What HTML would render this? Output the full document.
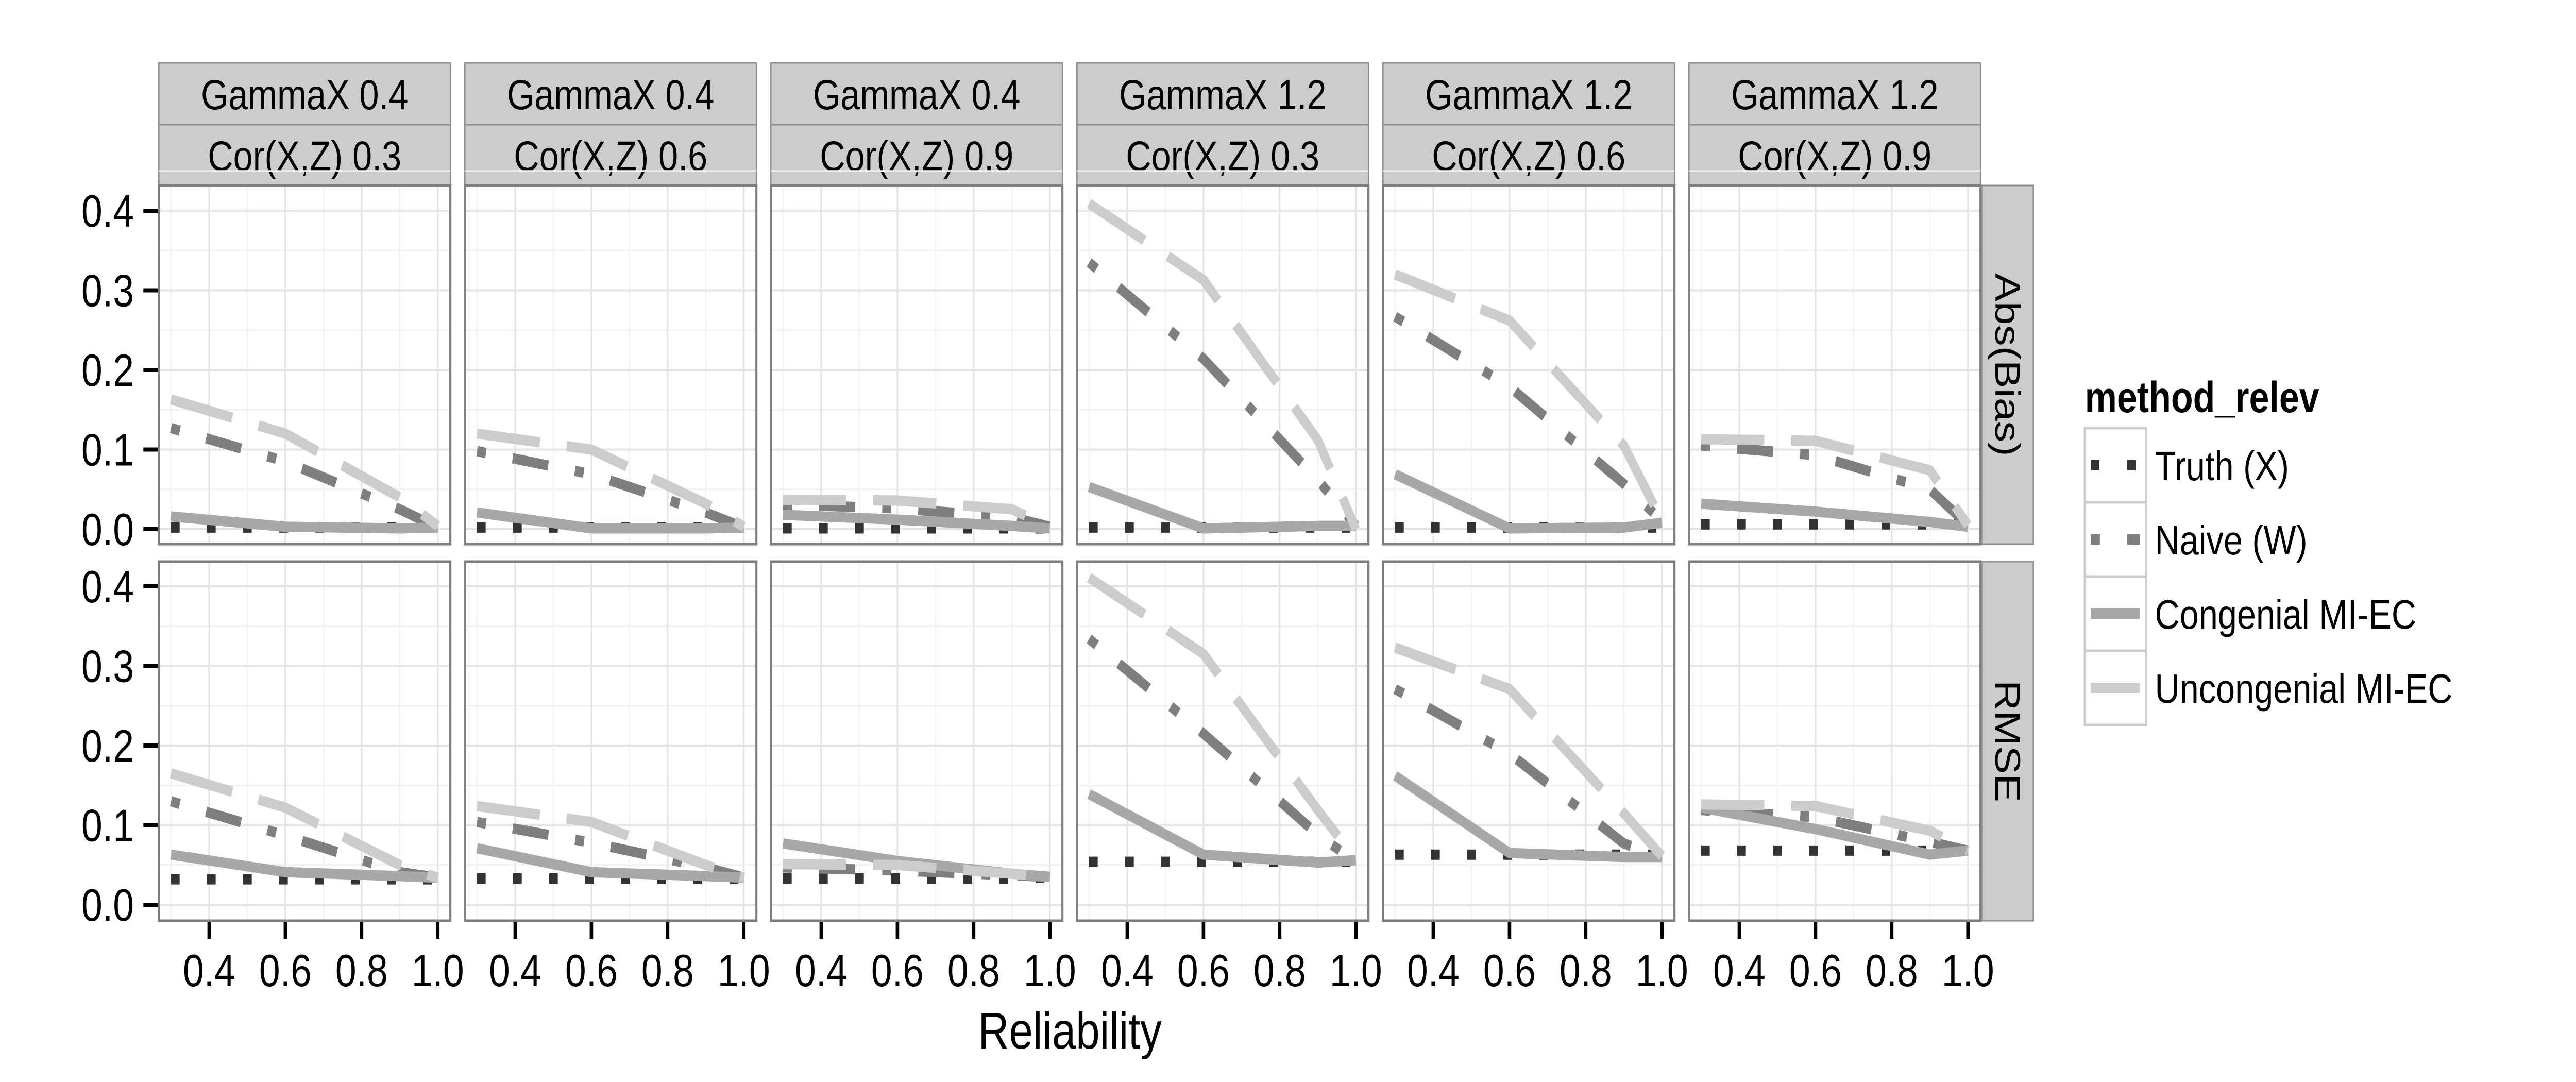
<!DOCTYPE html>
<html><head><meta charset="utf-8"><style>
html,body{margin:0;padding:0;background:#fff;width:100%;height:100%;overflow:hidden;}
svg{display:block;font-family:"Liberation Sans",Arial,sans-serif;width:100vw;height:100vh;}
</style></head><body>
<svg id="chart" viewBox="0 0 6000 2100" preserveAspectRatio="none" xmlns="http://www.w3.org/2000/svg"></svg>
<script>
const xs = [0.3, 0.6, 0.9, 1.0];
const gammaLabels = ["GammaX 0.4","GammaX 0.4","GammaX 0.4","GammaX 1.2","GammaX 1.2","GammaX 1.2"];
const corLabels = ["Cor(X,Z) 0.3","Cor(X,Z) 0.6","Cor(X,Z) 0.9","Cor(X,Z) 0.3","Cor(X,Z) 0.6","Cor(X,Z) 0.9"];
const rowLabels = ["Abs(Bias)","RMSE"];
const xTicks = [0.4,0.6,0.8,1.0];
const xTickLabels = ["0.4","0.6","0.8","1.0"];
const yTicks = [0,0.1,0.2,0.3,0.4];
const yTickLabels = ["0.0","0.1","0.2","0.3","0.4"];
const methods = ["Truth (X)","Naive (W)","Congenial MI-EC","Uncongenial MI-EC"];

const truthBias = [[0.002,0.002,0.002,0.002],[0.002,0.002,0.002,0.002],[0.001,0.001,0.001,0.001],[0.002,0.002,0.002,0.002],[0.002,0.002,0.002,0.002],[0.006,0.006,0.006,0.006]];
const naiveBias = [[0.127,0.085,0.025,0.002],[0.098,0.069,0.021,0.002],[0.031,0.026,0.015,0.003],[0.335,0.214,0.062,0.004],[0.267,0.179,0.057,0.010],[0.105,0.093,0.050,0.005]];
const congBias = [[0.016,0.003,0.001,0.002],[0.021,0.001,0.001,0.002],[0.018,0.012,0.004,0.001],[0.053,0.001,0.004,0.004],[0.069,0.001,0.002,0.008],[0.032,0.022,0.009,0.003]];
const uncongBias = [[0.163,0.120,0.040,0.004],[0.120,0.100,0.032,0.003],[0.037,0.036,0.025,0.003],[0.409,0.313,0.112,0.000],[0.320,0.262,0.105,0.010],[0.113,0.111,0.074,0.005]];

const truthRmse = [[0.032,0.032,0.032,0.032],[0.033,0.033,0.033,0.033],[0.033,0.033,0.033,0.034],[0.054,0.054,0.054,0.054],[0.063,0.063,0.063,0.063],[0.068,0.068,0.068,0.068]];
const naiveRmse = [[0.130,0.087,0.041,0.034],[0.104,0.078,0.047,0.034],[0.047,0.043,0.037,0.035],[0.334,0.215,0.088,0.054],[0.271,0.190,0.077,0.060],[0.119,0.110,0.079,0.068]];
const congRmse = [[0.063,0.041,0.036,0.034],[0.071,0.041,0.036,0.034],[0.077,0.055,0.039,0.035],[0.139,0.063,0.053,0.056],[0.162,0.065,0.060,0.060],[0.122,0.095,0.063,0.068]];
const uncongRmse = [[0.165,0.122,0.050,0.034],[0.124,0.104,0.050,0.034],[0.051,0.050,0.039,0.035],[0.411,0.315,0.119,0.057],[0.323,0.271,0.115,0.061],[0.126,0.124,0.093,0.068]];

const NS = "http://www.w3.org/2000/svg";
const svg = document.getElementById("chart");
function mk(tag, attrs, parent){
  const e = document.createElementNS(NS, tag);
  for (const k in attrs) e.setAttribute(k, attrs[k]);
  (parent||svg).appendChild(e);
  return e;
}
const PL0 = 370, PSTEP = 712.8, PW = 679;
const rowTop = [360, 1090], rowBot = [1056, 1787], rowZero = [1027, 1756];
const YPX = 1545;
const XMIN = 0.268, XMAX = 1.033;
function xScale(p, v){ return PL0 + p*PSTEP + (v - XMIN)/(XMAX - XMIN)*PW; }
function yScale(r, v){ return rowZero[r] - v*YPX; }

const styles = [
  {color:"#333333", dash:"20,64"},
  {color:"#7f7f7f", dash:"21,63,84,63"},
  {color:"#a8a8a8", dash:""},
  {color:"#cccccc", dash:"147,63"}
];
const seriesByRow = [[truthBias, naiveBias, congBias, uncongBias],[truthRmse, naiveRmse, congRmse, uncongRmse]];
const seriesNames = ["truth","naive","congenial","uncongenial"];

for (let p=0;p<6;p++){
  const x0 = PL0 + p*PSTEP;
  const s1 = mk("rect",{x:x0,y:122,width:PW,height:120,fill:"#cccccc",stroke:"#8c8c8c","stroke-width":3});
  
  
  const s2 = mk("rect",{x:x0,y:242,width:PW,height:119,fill:"#cccccc",stroke:"#8c8c8c","stroke-width":3});
  
  
  const t1 = mk("text",{x:x0+PW/2,y:212,"text-anchor":"middle","font-size":82,fill:"#000"});
  t1.textContent = gammaLabels[p];
  
  
  const t2 = mk("text",{x:x0+PW/2,y:331,"text-anchor":"middle","font-size":82,fill:"#000"});
  t2.textContent = corLabels[p];
  
  
}

for (let r=0;r<2;r++){
  const rs = mk("rect",{x:4617,y:rowTop[r],width:119,height:rowBot[r]-rowTop[r],fill:"#cccccc",stroke:"#8c8c8c","stroke-width":3});
  
  
  const cy = (rowTop[r]+rowBot[r])/2;
  const rt = mk("text",{x:4676,y:cy,"text-anchor":"middle","dominant-baseline":"central","font-size":82,transform:`rotate(90 4676 ${cy})`});
  rt.textContent = rowLabels[r];
  
  
  for (let i=0;i<yTicks.length;i++){
    const y = yScale(r, yTicks[i]);
    const tk = mk("line",{x1:334,x2:369,y1:y,y2:y,stroke:"#000","stroke-width":8});
    
    
    const tl = mk("text",{x:312,y:y+31,"text-anchor":"end","font-size":88});
    tl.textContent = yTickLabels[i];
    
    
  }
  for (let p=0;p<6;p++){
    const x0 = PL0 + p*PSTEP;
    const g = mk("g",{});
    
    
    mk("rect",{x:x0,y:rowTop[r],width:PW,height:rowBot[r]-rowTop[r],fill:"#ffffff"},g);
    const clip = mk("clipPath",{id:`c${r}${p}`},g);
    mk("rect",{x:x0,y:rowTop[r],width:PW,height:rowBot[r]-rowTop[r]},clip);
    for (let v=0.05; v<0.45; v+=0.1){
      const y=yScale(r,v);
      mk("line",{x1:x0,x2:x0+PW,y1:y,y2:y,stroke:"#f2f2f2","stroke-width":3},g);
    }
    for (let v=0.3; v<1.05; v+=0.2){
      const x=xScale(p,v);
      mk("line",{x1:x,x2:x,y1:rowTop[r],y2:rowBot[r],stroke:"#f2f2f2","stroke-width":3},g);
    }
    for (const v of yTicks){
      const y=yScale(r,v);
      mk("line",{x1:x0,x2:x0+PW,y1:y,y2:y,stroke:"#e5e5e5","stroke-width":4},g);
    }
    for (const v of xTicks){
      const x=xScale(p,v);
      mk("line",{x1:x,x2:x,y1:rowTop[r],y2:rowBot[r],stroke:"#e5e5e5","stroke-width":4},g);
    }
    const sg = mk("g",{"clip-path":`url(#c${r}${p})`},g);
    for (let m=0;m<4;m++){
      const vals = seriesByRow[r][m][p];
      const d = vals.map((v,i)=>(i?"L":"M")+xScale(p,xs[i]).toFixed(1)+","+yScale(r,v).toFixed(1)).join(" ");
      const a = {d:d,fill:"none",stroke:styles[m].color,"stroke-width":20,"stroke-linecap":"butt","stroke-linejoin":"round"};
      if (styles[m].dash) a["stroke-dasharray"]=styles[m].dash;
      const path = mk("path",a,sg);
      
      
    }
    mk("rect",{x:x0,y:rowTop[r],width:PW,height:rowBot[r]-rowTop[r],fill:"none",stroke:"#7f7f7f","stroke-width":5},g);
  }
}
for (let p=0;p<6;p++){
  for (let i=0;i<xTicks.length;i++){
    const x = xScale(p,xTicks[i]);
    const tk = mk("line",{x1:x,x2:x,y1:1790,y2:1822,stroke:"#000","stroke-width":8});
    
    
    const tl = mk("text",{x:x,y:1914,"text-anchor":"middle","font-size":88});
    tl.textContent = xTickLabels[i];
    
    
  }
}
const xt = mk("text",{x:2492,y:2035,"text-anchor":"middle","font-size":100});
xt.textContent = "Reliability";



const lt = mk("text",{x:4856,y:800,"font-size":84,"font-weight":"bold"});
lt.textContent = "method_relev";


for (let m=0;m<4;m++){
  const top = 831 + m*144;
  const lg = mk("g",{});
  
  
  mk("rect",{x:4856,y:top,width:143,height:144,fill:"#fff",stroke:"#cccccc","stroke-width":5},lg);
  const a = {x1:4870,x2:4984,y1:top+72,y2:top+72,stroke:styles[m].color,"stroke-width":20};
  if (styles[m].dash) a["stroke-dasharray"]=styles[m].dash;
  mk("line",a,lg);
  const tx = mk("text",{x:5019,y:top+101,"font-size":80},lg);
  tx.textContent = methods[m];
}
</script>
</body></html>
